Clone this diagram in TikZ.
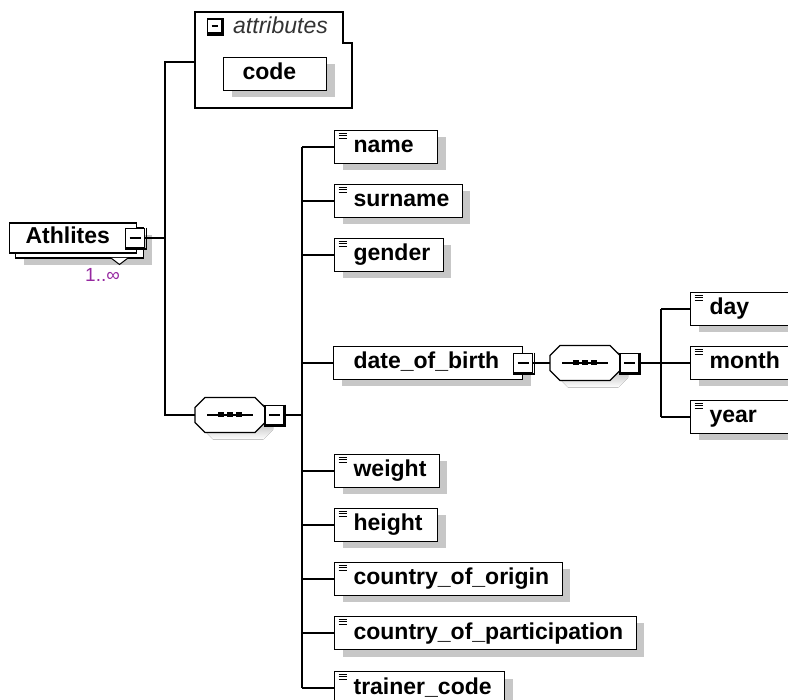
\documentclass[tikz,border=0pt]{standalone}
\usepackage{fontspec}
\setmainfont{Liberation Sans}
\usetikzlibrary{shadows,calc}

\definecolor{shade}{gray}{0.78}
\definecolor{occurs}{RGB}{150,40,160}

% element label: fixed left padding, minimum text width, fixed right padding
\newsavebox\eltbox
\newcommand\etext[1]{\sbox\eltbox{#1}\hspace*{19pt}%
  \ifdim\wd\eltbox<71pt\relax\hbox to 71pt{\usebox\eltbox\hfil}\else\usebox\eltbox\fi
  \hspace*{13pt}}

% octagonal "sequence" compositor drawn over the frame of node #1
\newcommand\seqshape[1]{%
  \fill[shade, transform canvas={shift={(8pt,-7pt)}}]
    ([shift={(0pt,-10pt)}]#1.north west) -- ([shift={(10pt,0pt)}]#1.north west) --
    ([shift={(-10pt,0pt)}]#1.north east) -- ([shift={(0pt,-10pt)}]#1.north east) --
    ([shift={(0pt,10pt)}]#1.south east) -- ([shift={(-10pt,0pt)}]#1.south east) --
    ([shift={(10pt,0pt)}]#1.south west) -- ([shift={(0pt,10pt)}]#1.south west) -- cycle;
  \filldraw[line width=1.2pt, fill=white, draw=black]
    ([shift={(0pt,-10pt)}]#1.north west) -- ([shift={(10pt,0pt)}]#1.north west) --
    ([shift={(-10pt,0pt)}]#1.north east) -- ([shift={(0pt,-10pt)}]#1.north east) --
    ([shift={(0pt,10pt)}]#1.south east) -- ([shift={(-10pt,0pt)}]#1.south east) --
    ([shift={(10pt,0pt)}]#1.south west) -- ([shift={(0pt,10pt)}]#1.south west) -- cycle;
  \draw[line width=1.2pt] ([xshift=12pt]#1.west) -- ([xshift=-12pt]#1.east);
  \foreach \k in {-9,0,9}
    \fill[black] ([shift={(\k pt-3pt,-2.5pt)}]#1.center) rectangle ++(6pt,5pt);
}

\tikzset{
  conn/.style={line width=1.3pt, draw=black},
  shadowed/.style={drop shadow={shadow xshift=8pt, shadow yshift=-7pt, fill=shade, opacity=1}},
  box/.style={rectangle, draw=black, line width=1.2pt, fill=white, anchor=west,
    inner xsep=0pt, inner ysep=0pt, minimum height=33pt,
    text height=17pt, text depth=5pt, font=\bfseries\fontsize{23}{27}\selectfont},
  leaf/.style={box, shadowed, path picture={
    \foreach \d in {3,5.3,7.6}
      \draw[line width=0.9pt] ([shift={(4pt,-\d pt)}]path picture bounding box.north west) -- ++(8pt,0pt);}},
  minusbtn/.style={rectangle, draw=black, line width=1.5pt, fill=white,
    minimum size=19pt, inner sep=0pt, path picture={
    \draw[line width=1.2pt] ([xshift=4pt]path picture bounding box.west) -- ([xshift=-4pt]path picture bounding box.east);}},
  seqframe/.style={rectangle, draw=none, minimum width=70pt, minimum height=35pt,
    inner sep=0pt, outer sep=0pt, anchor=west}
}

\begin{document}
\begin{tikzpicture}[x=1pt, y=-1pt]
\useasboundingbox (0,0) rectangle (788,700);
\clip (0,0) rectangle (788,700);

% ---- root element, drawn as two stacked cards ----
\node[box, shadowed, minimum width=128pt, minimum height=30pt] (athback) at (15,243) {};
\draw[line width=1pt, fill=white] (111,258) -- (119.5,264.5) -- (128,258);
\node[box, minimum height=30pt] (ath) at (9,238) {\hbox to 127pt{\hspace*{16pt}Athlites\hfil}};
\node[minusbtn] (athm) at ([xshift=-2pt]ath.east) {};
\node[anchor=base west, text=occurs, font=\fontsize{19}{22}\selectfont, inner sep=0pt] (occ) at (85,282) {1..∞};

% ---- attribute group ----
\draw[line width=1.2pt, fill=white] (195,12) -- (343,12) -- (343,43) -- (352,43) -- (352,108) -- (195,108) -- cycle;
\coordinate (attrw) at (195,62);
\node[minusbtn, minimum size=14pt, line width=1.5pt] (attrm) at (214.5,26) {};
\node[anchor=base west, font=\itshape\fontsize{23}{27}\selectfont, text=black!80, inner sep=0pt] (attrlbl) at (233,34) {attributes};
\node[box, shadowed] (code) at (223,74) {\etext{code}};

% ---- sequence of child elements ----
\node[seqframe] (seq1) at (195,415) {};
\seqshape{seq1}
\node[minusbtn, anchor=west] (s1m) at ([xshift=-1pt]seq1.east) {};

\node[leaf] (cname)    at (334,147) {\etext{name}};
\node[leaf] (csurname) at (334,201) {\etext{surname}};
\node[leaf] (cgender)  at (334,255) {\etext{gender}};
\node[box, shadowed] (cdob) at (333,363) {\hbox to 189pt{\hspace*{20pt}date\_of\_birth\hfil}};
\node[minusbtn] (dobm) at (cdob.east) {};
\node[leaf] (cweight)  at (334,471) {\etext{weight}};
\node[leaf] (cheight)  at (334,525) {\etext{height}};
\node[leaf] (corigin)  at (334,579) {\etext{country\_of\_origin}};
\node[leaf] (cpart)    at (334,633) {\etext{country\_of\_participation}};
\node[leaf] (ctrainer) at (334,688) {\etext{trainer\_code}};

% ---- date_of_birth content ----
\node[seqframe] (seq2) at (550,363) {};
\seqshape{seq2}
\node[minusbtn, anchor=west] (s2m) at ([xshift=-1pt]seq2.east) {};
\node[leaf] (cday)   at (690,309) {\etext{day}};
\node[leaf] (cmonth) at (690,363) {\etext{month}};
\node[leaf] (cyear)  at (690,417) {\etext{year}};

% raised right and bottom edges of the collapse buttons
\foreach \m in {athm,s1m,dobm,s2m,attrm}
  \draw[line width=1.6pt] ([shift={(1pt,0pt)}]\m.north east) -- ([shift={(1pt,-1pt)}]\m.south east) -- ([shift={(0pt,-1pt)}]\m.south west);

% ---- connectors ----
\coordinate (j1) at (165,238);
\coordinate (j2) at (302,415);
\coordinate (j3) at (661,363);

\draw[conn] (athm.east) -- (j1);
\draw[conn] (attrw) -| (j1) |- (seq1.west);

\draw[conn] (s1m.east) -- (j2);
\draw[conn] (j2 |- cname.west) -- (j2 |- ctrainer.west);
\foreach \c in {cname,csurname,cgender,cdob,cweight,cheight,corigin,cpart,ctrainer}
  \draw[conn] (j2 |- \c.west) -- (\c.west);

\draw[conn] (dobm.east) -- (seq2.west);
\draw[conn] (s2m.east) -- (j3);
\draw[conn] (j3 |- cday.west) -- (j3 |- cyear.west);
\foreach \c in {cday,cmonth,cyear}
  \draw[conn] (j3 |- \c.west) -- (\c.west);
\end{tikzpicture}
\end{document}
